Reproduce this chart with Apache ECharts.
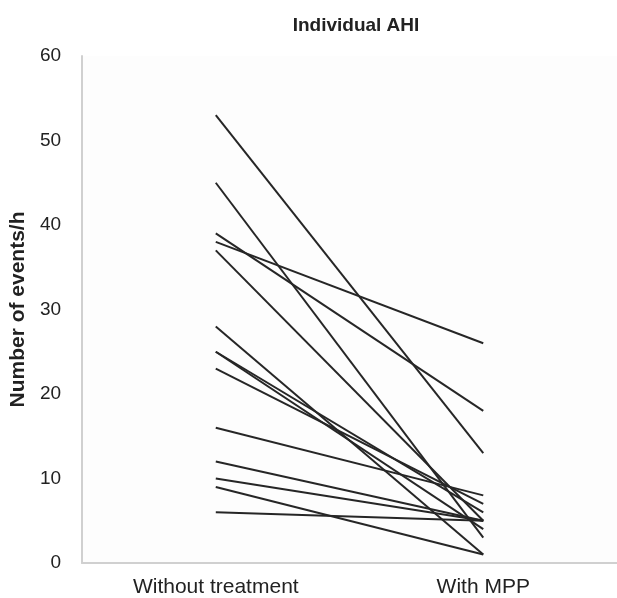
<!DOCTYPE html>
<html>
<head>
<meta charset="utf-8">
<script src="https://cdn.jsdelivr.net/npm/echarts@6/dist/echarts.min.js"></script>
<style>
html,body{margin:0;padding:0;background:#fff;}
#chart{width:617px;height:598px;}
</style>
</head>
<body>
<div id="chart"></div>
<script>
// Data
const categories = ['Without treatment', 'With MPP'];
const withoutTreatment = [53, 45, 39, 38, 37, 28, 25, 25, 23, 16, 12, 10, 9, 6];
const withMPP =          [13,  3, 18, 26,  5,  1,  6,  4,  7,  8,  5,  5, 1, 5];
const yTicks = [0, 10, 20, 30, 40, 50, 60];

const chart = echarts.init(document.getElementById('chart'), null, {renderer: 'canvas'});
const series = withoutTreatment.map((v, i) => ({
  type: 'line',
  data: [v, withMPP[i]],
  symbol: 'none',
  silent: true,
  lineStyle: {color: '#262626', width: 2},
  z: 3
}));

chart.setOption({
  animation: false,
  backgroundColor: '#ffffff',
  title: {
    text: 'Individual AHI',
    left: 351,
    top: 11,
    textAlign: 'center',
    textStyle: {fontFamily: 'Liberation Sans', fontWeight: 'bold', fontSize: 19, color: '#222'}
  },
  grid: {left: 77, right: 0, top: 56, bottom: 32, containLabel: false,
         show: true, backgroundColor: '#fdfdfd', borderWidth: 0},
  xAxis: {
    type: 'category',
    data: categories,
    boundaryGap: true,
    axisLine: {show: true, lineStyle: {color: '#d0d0d0', width: 2}},
    axisTick: {show: false},
    axisLabel: {fontFamily: 'Liberation Sans', fontSize: 21, color: '#222', margin: 14},
    splitLine: {show: false}
  },
  yAxis: {
    type: 'value',
    min: yTicks[0],
    max: yTicks[yTicks.length - 1],
    interval: 10,
    name: 'Number of events/h',
    nameLocation: 'middle',
    nameGap: 48,
    nameTextStyle: {fontFamily: 'Liberation Sans', fontWeight: 'bold', fontSize: 21, color: '#222'},
    axisLine: {show: true, lineStyle: {color: '#d0d0d0', width: 2}},
    axisTick: {show: false},
    axisLabel: {fontFamily: 'Liberation Sans', fontSize: 19, color: '#222', margin: 21},
    splitLine: {show: false}
  },
  series: series
});
</script>
</body>
</html>
